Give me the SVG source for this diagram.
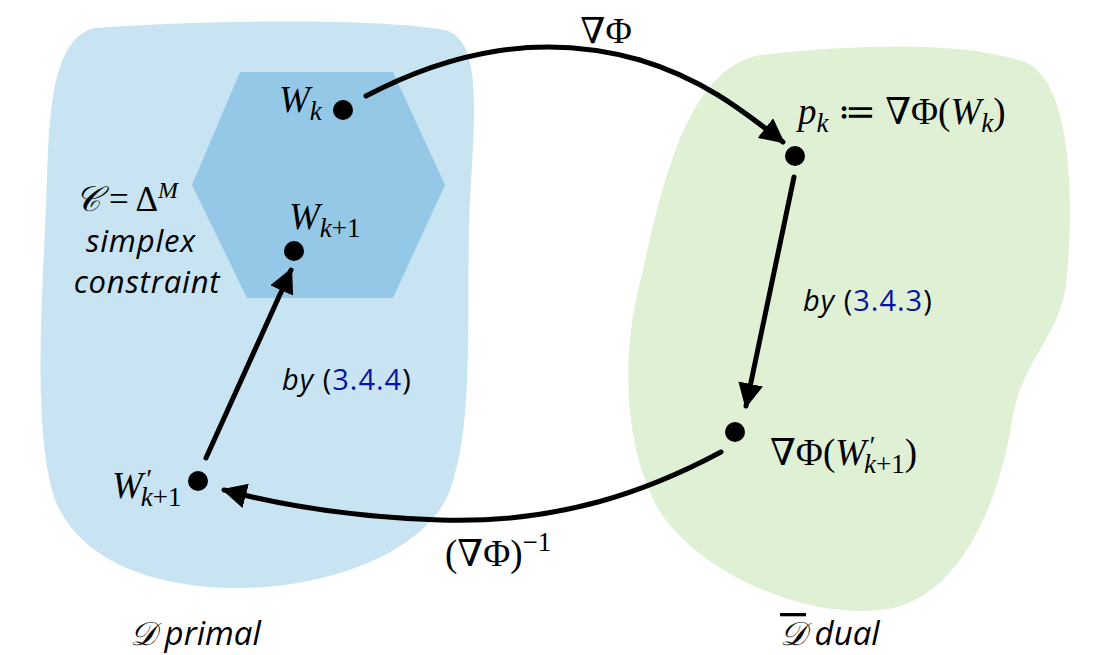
<svg xmlns="http://www.w3.org/2000/svg" width="1103" height="655" viewBox="0 0 1103 655">
<style>
.m{font-family:"Liberation Serif","DejaVu Serif",serif;font-style:normal;fill:#000}
.mi{font-family:"Liberation Serif","DejaVu Serif",serif;font-style:italic;fill:#000}
.s{font-family:"Open Sans","Liberation Sans",sans-serif;font-style:italic;fill:#000}
.n{font-family:"Open Sans","Liberation Sans",sans-serif;font-style:normal;fill:#000}
.ref{fill:#0A14A0;font-style:normal}
.dot{fill:#000}
.ar{fill:none;stroke:#000;stroke-width:5;stroke-linecap:round}
</style>
<defs>
<marker id="ah" viewBox="0 0 10 10" refX="9" refY="5" markerWidth="5" markerHeight="5" markerUnits="strokeWidth" orient="auto">
<path d="M0,0 L10,5 L0,10 Z" fill="#000"/>
</marker>
</defs>
<g id="primal">
<path d="M 95,28 C 200,20 380,18 445,30 C 482,40 475,110 470,200 C 465,300 476,420 450,490 C 428,550 330,590 230,588 C 150,586 80,560 55,500 C 35,440 40,330 45,230 C 50,150 42,40 95,28 Z" fill="#C8E3F1"/>
</g>
<g id="dual">
<path d="M 760,55 C 850,45 960,40 1025,62 C 1072,82 1075,200 1066,285 C 1060,335 1022,360 1012,420 C 1000,500 960,603 880,610 C 800,618 700,572 660,512 C 625,452 620,360 640,282 C 660,200 682,70 760,55 Z" fill="#DFF0D5"/>
</g>
<g id="simplex">
<polygon points="240,72 393,72 445,185 393,298 247,298 192,185" fill="#94C8E6"/>
<text class="mi" x="75" y="211" font-size="35">𝒞<tspan class="m" dx="8">= Δ</tspan><tspan class="mi" font-size="24" dy="-13">M</tspan></text>
<text class="s" x="141" y="252" font-size="31" letter-spacing="0.8" text-anchor="middle">simplex</text>
<text class="s" x="147" y="293" font-size="31" letter-spacing="0.8" text-anchor="middle">constraint</text>
</g>
<g id="Wk">
<circle class="dot" cx="343" cy="110" r="10"/>
<text class="mi" x="279" y="112" font-size="37">W<tspan font-size="27" dy="8">k</tspan></text>
</g>
<g id="Wk1">
<circle class="dot" cx="294" cy="251" r="10"/>
<text class="mi" x="289" y="229" font-size="37">W<tspan font-size="27" dy="8">k</tspan><tspan class="m" font-size="27">+1</tspan></text>
</g>
<g id="Wpk1">
<circle class="dot" cx="198" cy="481" r="10"/>
<text class="mi" x="112" y="498" font-size="37">W<tspan font-size="27" dx="2" dy="-10">′</tspan><tspan font-size="27" dx="-10" dy="18">k</tspan><tspan class="m" font-size="27">+1</tspan></text>
</g>
<g id="pk">
<circle class="dot" cx="795" cy="156" r="10"/>
<text class="mi" x="798" y="124" font-size="37">p<tspan font-size="27" dy="8">k</tspan><tspan class="m" font-size="37" dy="-8"> ≔ ∇Φ(</tspan>W<tspan font-size="27" dy="8">k</tspan><tspan class="m" font-size="37" dy="-8">)</tspan></text>
</g>
<g id="gradW">
<circle class="dot" cx="735" cy="432" r="10"/>
<text class="m" x="770" y="465" font-size="37">∇Φ(<tspan class="mi">W</tspan><tspan class="mi" font-size="27" dx="2" dy="-10">′</tspan><tspan class="mi" font-size="27" dx="-10" dy="18">k</tspan><tspan font-size="27">+1</tspan><tspan dy="-8">)</tspan></text>
</g>
<g id="connectors">
<path class="ar" d="M 366,96 C 450,52 540,32 640,60 C 700,78 740,108 783,142" marker-end="url(#ah)"/>
<path class="ar" d="M 794,177 L 746,406" marker-end="url(#ah)"/>
<path class="ar" d="M 721,452 C 650,490 560,524 440,520 C 350,517 280,505 224,490" marker-end="url(#ah)"/>
<path class="ar" d="M 206,458 L 291,270" marker-end="url(#ah)"/>
<text class="m" x="606" y="43" font-size="36" text-anchor="middle">∇Φ</text>
<text class="m" x="445" y="566" font-size="37">(∇Φ)<tspan font-size="27" dy="-15">−1</tspan></text>
<text class="s" x="282" y="390" font-size="29" letter-spacing="1">by <tspan class="n">(</tspan><tspan class="ref">3.4.4</tspan><tspan class="n">)</tspan></text>
<text class="s" x="803" y="311" font-size="29" letter-spacing="1">by <tspan class="n">(</tspan><tspan class="ref">3.4.3</tspan><tspan class="n">)</tspan></text>
</g>
<g id="labels">
<text class="s" x="130" y="645" font-size="33"><tspan class="mi">𝒟</tspan> primal</text>
<text class="s" x="780" y="645" font-size="33"><tspan class="mi" style="text-decoration:overline">𝒟</tspan> dual</text>
</g>
</svg>
